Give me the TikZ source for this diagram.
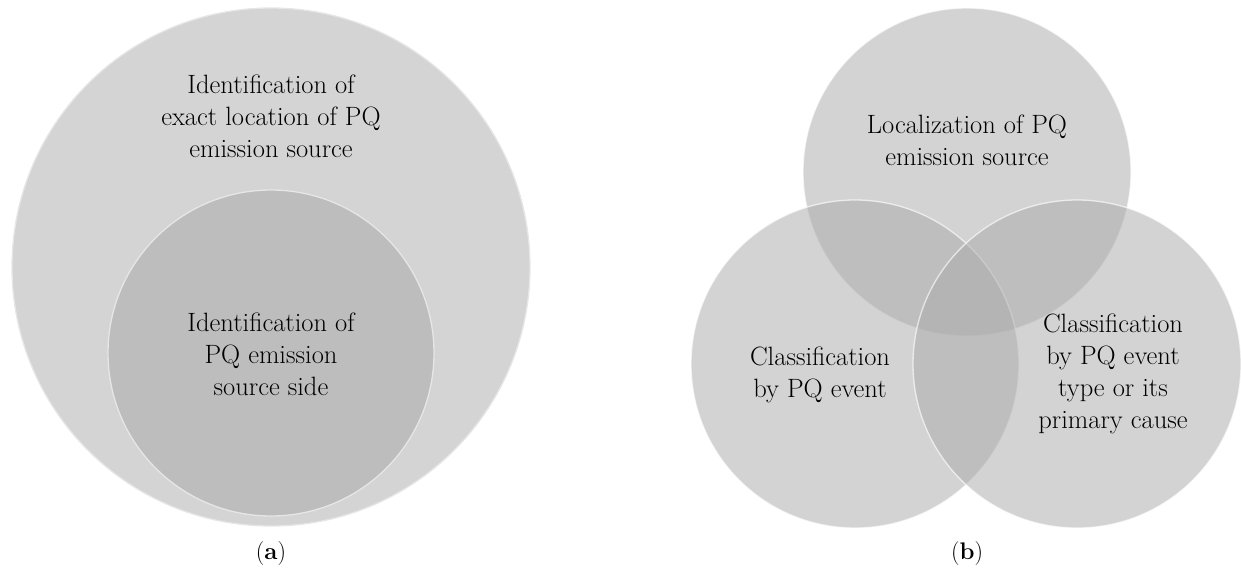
\documentclass[tikz,border=0pt]{standalone}
\definecolor{vfill}{HTML}{ABABAB}
\definecolor{outerfill}{HTML}{D4D4D4}
\definecolor{innerfill}{HTML}{BDBDBD}
\definecolor{vborder}{HTML}{E6E6E6}
\tikzset{
  venn/.style={circle, fill=vfill, fill opacity=0.52, draw=white, draw opacity=0.65, line width=1.3pt, inner sep=0pt},
  solidc/.style={circle, draw=vborder, line width=1.3pt, inner sep=0pt},
  lbl/.style={align=center, text=black, font=\fontsize{26.5}{32}\selectfont, inner sep=0pt},
  captxt/.style={text=black, font=\fontsize{24}{26}\selectfont, inner sep=0pt}
}
\begin{document}
\begin{tikzpicture}[x=1pt,y=-1pt]
\useasboundingbox (0,0) rectangle (1241,571);
% panel (a)
\node[solidc, fill=outerfill, minimum size=518pt] (outer) at (271,267) {};
\node[solidc, fill=innerfill, minimum size=326pt] (inner) at (271,353) {};
\node[lbl] (outertxt) at (271,116) {Identification of\\exact location of PQ\\emission source};
\node[lbl] (innertxt) at (271,354) {Identification of\\PQ emission\\source side};
\node[captxt] (capa) at (271,553) {(\textbf{a})};
% panel (b)
\node[venn, minimum size=328pt] (top) at (967,172) {};
\node[venn, minimum size=328pt] (bl) at (855,364) {};
\node[venn, minimum size=328pt] (br) at (1077,364) {};
\node[lbl] (toptxt) at (967,140) {Localization of PQ\\emission source};
\node[lbl] (bltxt) at (820,375) {Classification\\by PQ event};
\node[lbl] (brtxt) at (1113,374) {Classification\\by PQ event\\type or its\\primary cause};
\node[captxt] (capb) at (967,553) {(\textbf{b})};
\end{tikzpicture}
\end{document}
